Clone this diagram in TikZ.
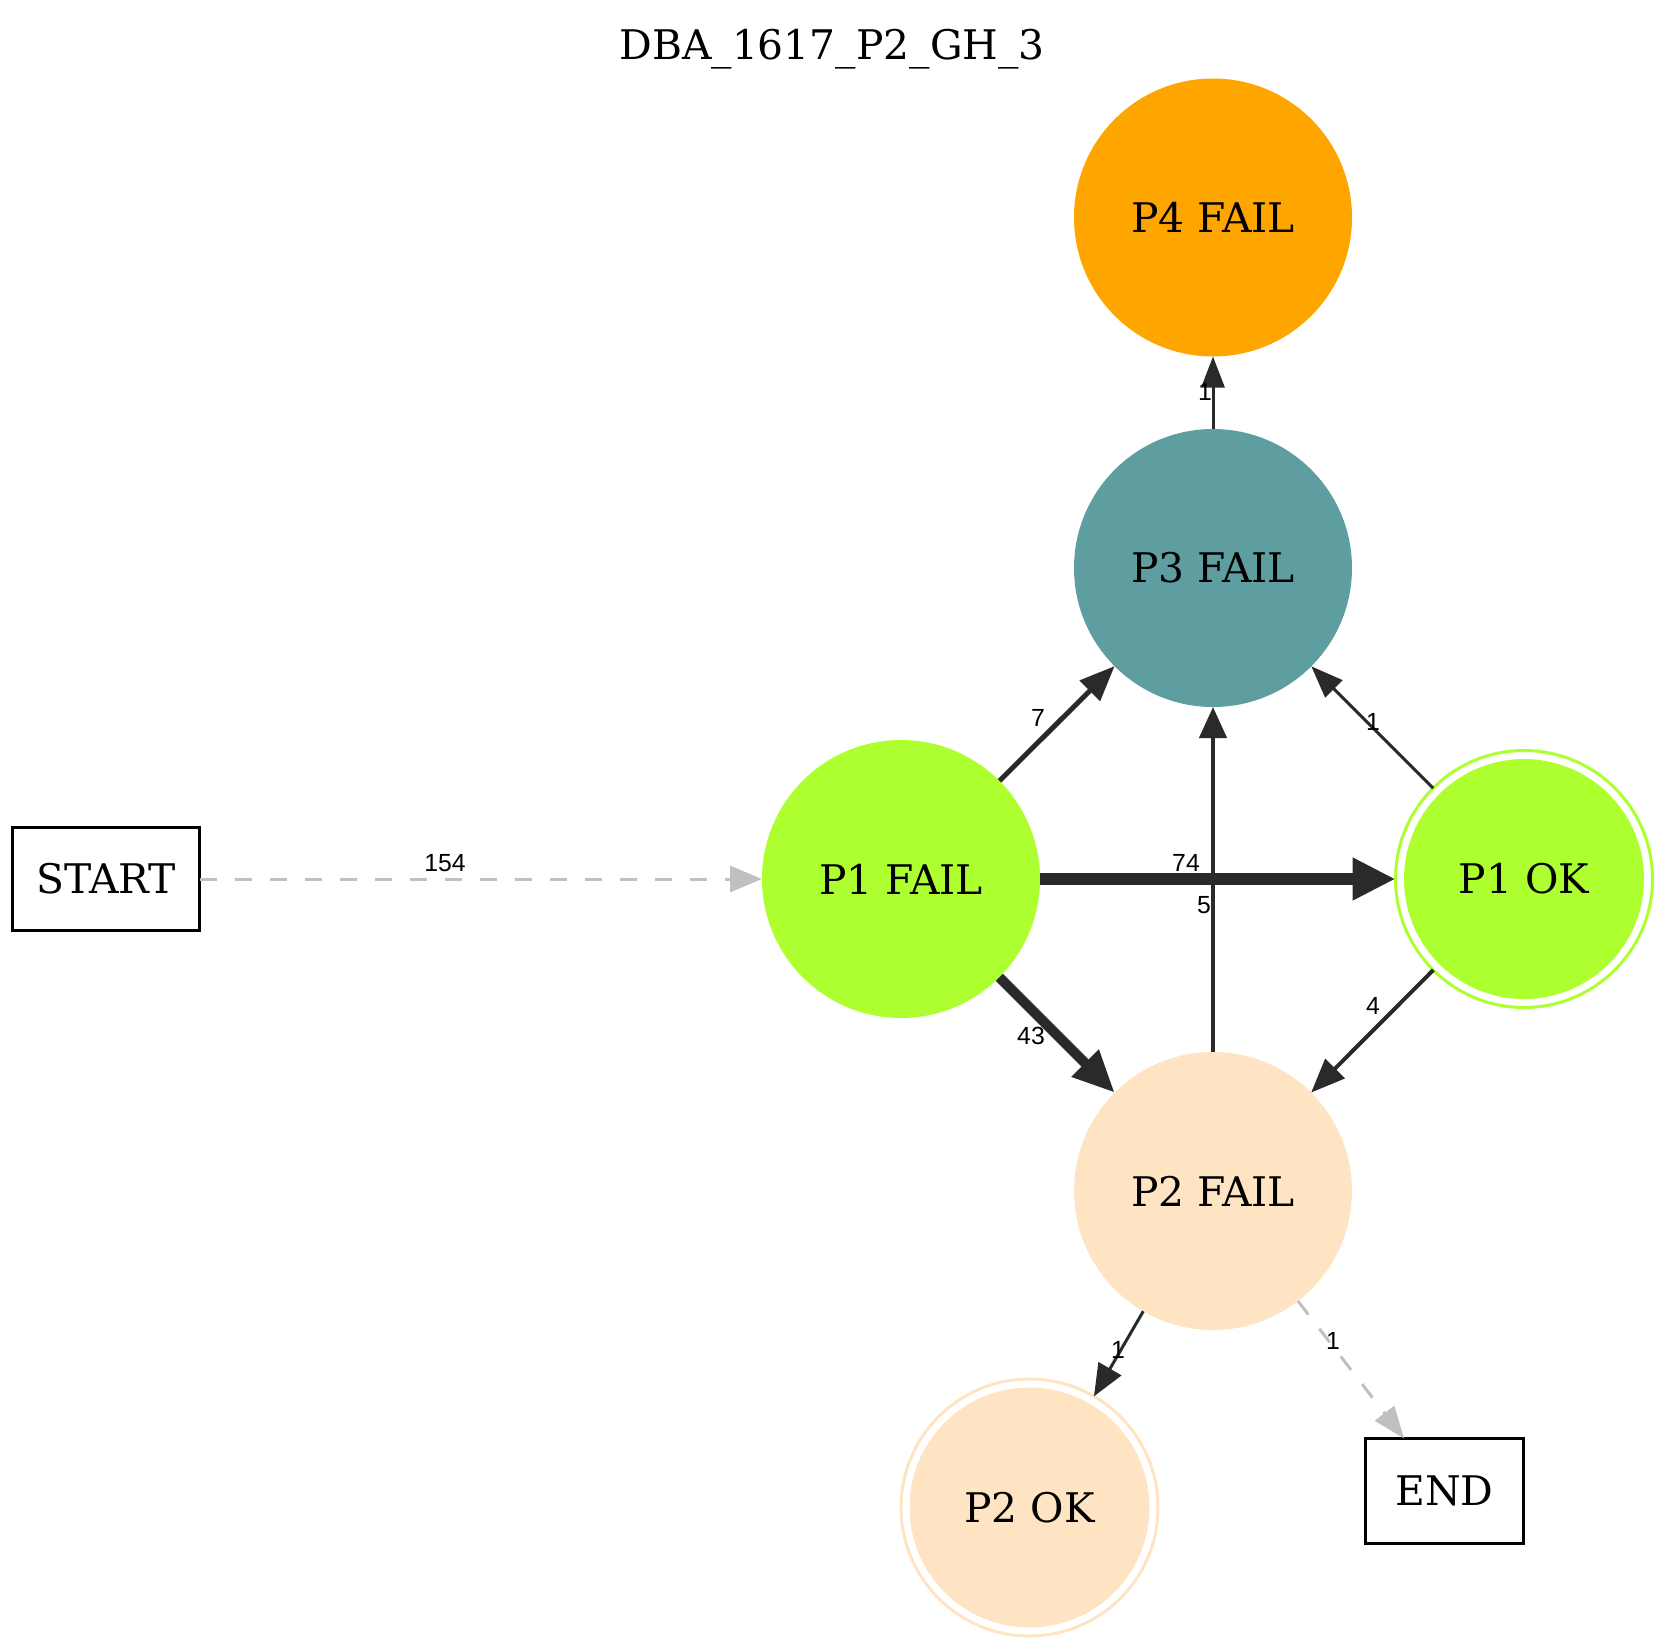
\documentclass[tikz,border=0pt]{standalone}
\usepackage{fontspec}
\setmainfont{DejaVu Serif}
\newfontfamily\lblfont{Liberation Sans}
\usetikzlibrary{arrows.meta}
\definecolor{gy}{HTML}{ADFF2F}
\definecolor{org}{HTML}{FFA500}
\definecolor{cad}{HTML}{5F9EA0}
\definecolor{bsq}{HTML}{FFE4C4}
\definecolor{edgec}{HTML}{2A2A2A}
\definecolor{dashc}{HTML}{C0C0C0}
\begin{document}
\begin{tikzpicture}[x=0.5pt,y=-0.5pt,
  nodefont/.style={font=\fontsize{20.4}{24}\selectfont},
  state/.style={circle, inner sep=0pt, outer sep=0pt, minimum size=139pt, fill=#1, nodefont},
  acc/.style={circle, inner sep=0pt, outer sep=0pt, minimum size=128.5pt, line width=1.5pt, draw=#1, nodefont,
    path picture={\fill[#1] (path picture bounding box.center) circle[radius=60pt];}},
  term/.style={rectangle, draw=black, line width=1.5pt, inner sep=0pt, outer sep=0pt, nodefont},
  edgeline/.style={draw=edgec},
  dashline/.style={draw=dashc, line width=1.5pt, dash pattern=on 8.5pt off 9pt},
  lbl/.style={font=\lblfont\fontsize{12.4}{14}\selectfont, inner sep=0pt},
]
\useasboundingbox (0,0) rectangle (1667,1650);

\node[nodefont, anchor=base] (title) at (832,59) {DBA\_1617\_P2\_GH\_3};

\node[state=org] (p4f) at (1213,217.5) {P4 FAIL};
\node[state=cad] (p3f) at (1213,568) {P3 FAIL};
\node[state=gy] (p1f) at (901,879) {P1 FAIL};
\node[acc=gy] (p1ok) at (1524,879) {P1 OK};
\node[state=bsq] (p2f) at (1213,1191) {P2 FAIL};
\node[acc=bsq] (p2ok) at (1029.5,1507.5) {P2 OK};
\node[term, minimum width=93.5pt, minimum height=51.5pt] (start) at (106,879) {START};
\node[term, minimum width=79pt, minimum height=52.5pt] (end) at (1444.5,1491) {END};

% edges
\draw[dashline, -{Triangle[length=16pt,width=13pt,fill=dashc]}] (start) -- (p1f);
\draw[edgeline, line width=2.5pt, -{Triangle[length=17.5pt,width=14pt]}] (p1f) -- (p3f);
\draw[edgeline, line width=6pt, -{Triangle[length=21.5pt,width=20pt]}] (p1f) -- (p1ok);
\draw[edgeline, line width=5pt, -{Triangle[length=21pt,width=18pt]}] (p1f) -- (p2f);
\draw[edgeline, line width=2.2pt, -{Triangle[length=15.5pt,width=13.5pt]}] (p2f) -- (p3f);
\draw[edgeline, line width=1.5pt, -{Triangle[length=16pt,width=12pt]}] (p1ok) -- (p3f);
\draw[edgeline, line width=2pt, -{Triangle[length=17pt,width=13.5pt]}] (p1ok) -- (p2f);
\draw[edgeline, line width=1.5pt, -{Triangle[length=15.5pt,width=11.5pt]}] (p3f) -- (p4f);
\draw[edgeline, line width=1.5pt, -{Triangle[length=16pt,width=13pt]}] (p2f) -- (p2ok);
\draw[dashline, -{Triangle[length=16pt,width=12pt,fill=dashc]}] (p2f) -- (end);

% labels
\node[lbl] (l154) at (445,863) {154};
\node[lbl] (l7) at (1038,718) {7};
\node[lbl] (l74) at (1186,863) {74};
\node[lbl] (l5) at (1204,905) {5};
\node[lbl] (l43) at (1031,1036) {43};
\node[lbl] (l1a) at (1373,722) {1};
\node[lbl] (l4) at (1373,1006) {4};
\node[lbl] (l1b) at (1205,392) {1};
\node[lbl] (l1c) at (1118,1350) {1};
\node[lbl] (l1d) at (1333,1341) {1};
\end{tikzpicture}
\end{document}
